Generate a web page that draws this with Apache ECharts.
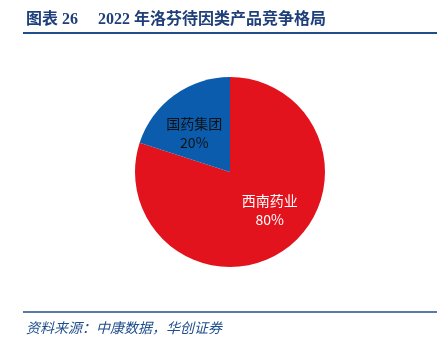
<!DOCTYPE html>
<html><head><meta charset="utf-8">
<script src="https://cdn.jsdelivr.net/npm/echarts@6/dist/echarts.min.js"></script>
<style>html,body{margin:0;padding:0;background:#fff}#c{width:445px;height:353px}</style>
</head><body><div id="c"></div>
<script>
const categories = ['西南药业', '国药集团'];
const values = [80, 20];
const colors = ['#E3131D', '#0B5CAD'];
const labelColors = ['#ffffff', '#111111'];
const titleText = '图表 26\u3000 2022 年洛芬待因类产品竞争格局';
const sourceText = '资料来源：中康数据，华创证券';

const chart = echarts.init(document.getElementById('c'), null, {renderer: 'canvas'});
chart.setOption({
  backgroundColor: '#fff',
  animation: false,
  title: {
    text: titleText, left: 21, top: 7,
    textStyle: {fontFamily: '"Liberation Serif","Noto Sans CJK SC",serif', fontWeight: 'bold', fontSize: 16, color: '#1F3F7A'}
  },
  graphic: [
    {type: 'line', shape: {x1: 23, y1: 33, x2: 437, y2: 33}, style: {stroke: '#1F4E8C', lineWidth: 2}},
    {type: 'line', shape: {x1: 23, y1: 312, x2: 437, y2: 312}, style: {stroke: '#1F4E8C', lineWidth: 1.5}},
    {type: 'text', left: 26, top: 321, style: {text: sourceText, fill: '#1F4E8C', font: 'italic 14px "Noto Sans CJK SC", sans-serif'}}
  ],
  series: [{
    type: 'pie',
    center: [230, 172],
    radius: [0, 95],
    startAngle: 90,
    clockwise: true,
    data: categories.map((n, i) => ({
      name: n, value: values[i],
      itemStyle: {color: colors[i]},
      label: {color: labelColors[i]}
    })),
    label: {
      show: true, position: 'inside',
      formatter: p => p.name + '\n' + p.value + '%',
      fontFamily: '"Noto Sans CJK SC", sans-serif', fontSize: 14, lineHeight: 19
    },
    labelLayout: p => p.dataIndex === 0 ? {dx: 10, dy: -3} : {dx: -6, dy: 2},
    labelLine: {show: false},
    emphasis: {disabled: true}
  }]
});
</script></body></html>
